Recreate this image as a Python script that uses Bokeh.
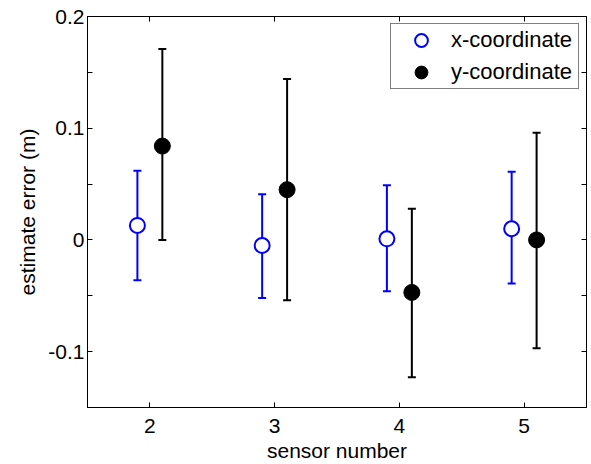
from bokeh.plotting import figure
from bokeh.models import (Range1d, LinearAxis, FixedTicker, ColumnDataSource,
                          Whisker, TeeHead, Legend, LegendItem, CustomJSTickFormatter)
from bokeh.transform import dodge
from bokeh.embed import file_html
from bokeh.resources import INLINE

# ---- data ----
sensors = [2, 3, 4, 5]
x_coord_mean = [0.013, -0.005, 0.001, 0.010]
x_coord_upper = [0.062, 0.041, 0.049, 0.061]
x_coord_lower = [-0.036, -0.052, -0.046, -0.039]
y_coord_mean = [0.084, 0.045, -0.047, 0.000]
y_coord_upper = [0.171, 0.144, 0.028, 0.096]
y_coord_lower = [0.000, -0.054, -0.123, -0.097]
x_tick_values = [2, 3, 4, 5]
y_tick_values = [-0.1, 0, 0.1, 0.2]
y_tick_labels = ["-0.1", "0", "0.1", "0.2"]
y_minor_values = [-0.15, -0.05, 0.05, 0.15]
series_names = ["x-coordinate", "y-coordinate"]

FONT = "Liberation Sans"
TICK_FS = "21px"
LABEL_FS = "21px"
LEGEND_FS = "22px"

src_x = ColumnDataSource(dict(s=sensors, m=x_coord_mean, up=x_coord_upper, lo=x_coord_lower))
src_y = ColumnDataSource(dict(s=sensors, m=y_coord_mean, up=y_coord_upper, lo=y_coord_lower))

p = figure(width=591, height=464, output_backend="svg", toolbar_location=None,
           x_range=Range1d(1.5, 5.5), y_range=Range1d(-0.15, 0.2),
           min_border_left=87, min_border_right=5, min_border_top=16, min_border_bottom=56,
           x_axis_label="sensor number", y_axis_label="estimate error (m)")
p.grid.visible = False
p.outline_line_color = "black"
p.outline_line_width = 1

xt = FixedTicker(ticks=x_tick_values)
yt = FixedTicker(ticks=y_tick_values, minor_ticks=y_minor_values)

def style_axis(ax):
    ax.axis_line_color = "black"
    ax.major_tick_line_color = "black"
    ax.minor_tick_line_color = "black"
    ax.major_tick_in = 5
    ax.major_tick_out = 0
    ax.minor_tick_in = 5
    ax.minor_tick_out = 0
    ax.major_label_text_font = FONT
    ax.major_label_text_color = "black"
    ax.major_label_text_font_size = TICK_FS
    ax.axis_label_text_font = FONT
    ax.axis_label_text_font_style = "normal"
    ax.axis_label_text_color = "black"
    ax.axis_label_text_font_size = LABEL_FS

p.xaxis.ticker = xt
p.yaxis.ticker = yt
p.yaxis.major_label_overrides = dict(zip(y_tick_values, y_tick_labels))
style_axis(p.xaxis[0])
style_axis(p.yaxis[0])
p.xaxis.major_label_standoff = 11
p.yaxis.major_label_standoff = 3
p.xaxis.axis_label_standoff = 3
p.yaxis.axis_label_standoff = 6

blank = CustomJSTickFormatter(code="return ''")
top = LinearAxis(ticker=xt, formatter=blank)
right = LinearAxis(ticker=yt, formatter=blank)
style_axis(top)
style_axis(right)
top.major_label_standoff = 0
right.major_label_standoff = 0
p.add_layout(top, "above")
p.add_layout(right, "right")

# error bars
for src, off, col in [(src_x, -0.1, "#0000ff"), (src_y, 0.1, "black")]:
    w = Whisker(source=src, base=dodge("s", off), upper="up", lower="lo",
                dimension="height", line_color=col, line_width=2,
                upper_head=TeeHead(size=8, line_color=col, line_width=2),
                lower_head=TeeHead(size=8, line_color=col, line_width=2))
    p.add_layout(w)

r1 = p.scatter(x=dodge("s", -0.1), y="m", source=src_x, size=15, marker="circle",
               fill_color="white", line_color="#0000ff", line_width=2)
r2 = p.scatter(x=dodge("s", 0.1), y="m", source=src_y, size=16, marker="circle",
               fill_color="black", line_color="black", line_width=1)

legend = Legend(items=[LegendItem(label=series_names[0], renderers=[r1]),
                       LegendItem(label=series_names[1], renderers=[r2])],
                location="top_right")
legend.label_text_font = FONT
legend.label_text_font_size = LEGEND_FS
legend.label_text_color = "black"
legend.border_line_color = "black"
legend.border_line_width = 1
legend.padding = 0
legend.spacing = 0
legend.margin = 7
legend.glyph_width = 60
legend.glyph_height = 32
legend.label_height = 24
legend.label_width = 127
legend.label_standoff = 0
p.add_layout(legend)

open("out.html", "w").write(file_html(p, INLINE))
